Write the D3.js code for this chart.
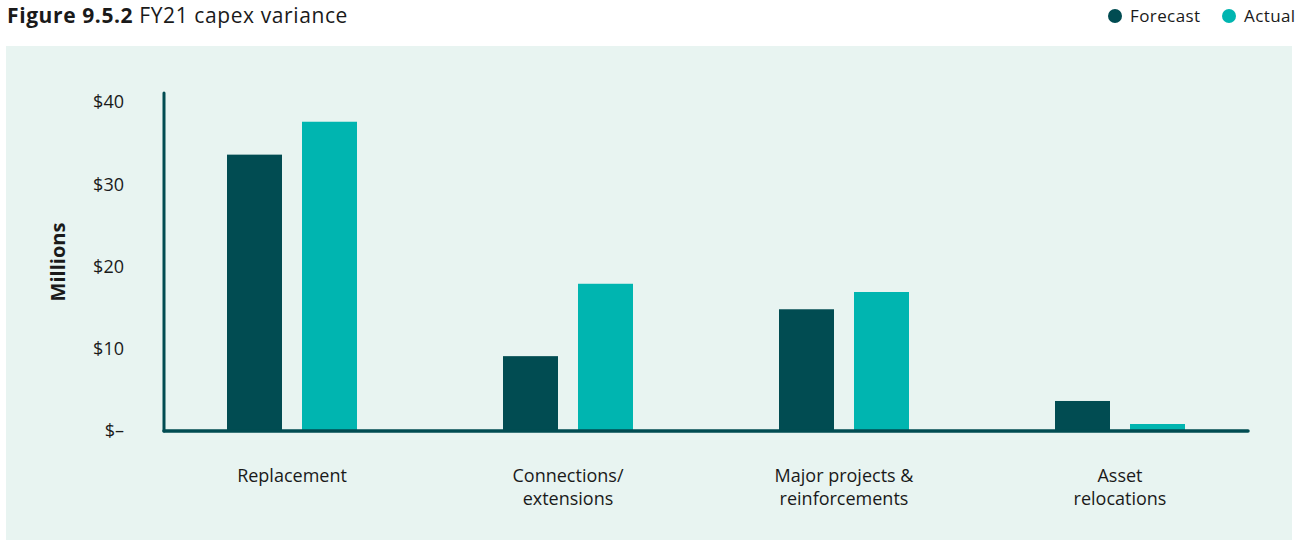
<!DOCTYPE html>
<html>
<head>
<meta charset="utf-8">
<script src="https://cdn.jsdelivr.net/npm/d3@7"></script>
<style>
  html, body { margin: 0; padding: 0; background: #ffffff; }
  svg { display: block; font-family: "Open Sans", "Lato", sans-serif; }
</style>
</head>
<body>
<svg id="chart" width="1301" height="540"></svg>
<script>
// FY21 capex by category, $ millions
const categories = [
  ["Replacement"],
  ["Connections/", "extensions"],
  ["Major projects &", "reinforcements"],
  ["Asset", "relocations"]
];
const forecast = [33.6, 9.1, 14.8, 3.65];
const actual = [37.6, 17.9, 16.9, 0.85];
const seriesNames = ["Forecast", "Actual"];
const yTicks = [0, 10, 20, 30, 40];
const yTickLabels = ["$–", "$10", "$20", "$30", "$40"];

const colors = { Forecast: "#014C52", Actual: "#00B5B0" };
const inkColor = "#1a1a1a";
const fontFamily = "'Open Sans', Lato, sans-serif";

const svg = d3.select("#chart");

// Panel background
svg.append("rect")
  .attr("x", 6).attr("y", 46)
  .attr("width", 1286).attr("height", 494)
  .attr("fill", "#E8F4F1");

// Title
const title = svg.append("text")
  .attr("x", 7).attr("y", 23)
  .attr("font-size", 21)
  .attr("letter-spacing", 0.6)
  .attr("fill", inkColor);
title.append("tspan").attr("font-weight", 700).text("Figure 9.5.2");
title.append("tspan").text(" FY21 capex variance");

// Legend
const legendItems = [
  { name: seriesNames[0], cx: 1115, tx: 1130 },
  { name: seriesNames[1], cx: 1229, tx: 1244 }
];
const legend = svg.append("g");
legend.selectAll("circle").data(legendItems).join("circle")
  .attr("cx", d => d.cx).attr("cy", 16).attr("r", 7)
  .attr("fill", d => colors[d.name]);
legend.selectAll("text").data(legendItems).join("text")
  .attr("x", d => d.tx).attr("y", 22)
  .attr("font-size", 17)
  .attr("letter-spacing", 0.4)
  .attr("fill", inkColor)
  .text(d => d.name);

// Scales
const y = d3.scaleLinear().domain([0, 40]).range([431, 102]);
const x0 = d3.scaleBand()
  .domain(d3.range(categories.length))
  .range([154, 1258])
  .paddingInner(0).paddingOuter(0);
const x1 = d3.scaleBand()
  .domain(seriesNames)
  .range([x0.bandwidth() / 2 - 65, x0.bandwidth() / 2 + 65])
  .paddingInner(20 / 75)
  .paddingOuter(0);

// Y tick labels
const yAxis = d3.axisLeft(y)
  .tickValues(yTicks)
  .tickFormat((d, i) => yTickLabels[i])
  .tickSize(0)
  .tickPadding(0);
const yAxisG = svg.append("g")
  .attr("transform", "translate(124,0)")
  .call(yAxis);
yAxisG.select(".domain").remove();
yAxisG.selectAll("text")
  .attr("font-size", 18)
  .attr("font-family", fontFamily)
  .attr("fill", inkColor);

// Y axis title
svg.append("text")
  .attr("transform", "translate(65,262) rotate(-90)")
  .attr("text-anchor", "middle")
  .attr("font-size", 20)
  .attr("font-weight", 700)
  .attr("fill", inkColor)
  .text("Millions");

// Bars
const groups = svg.append("g").selectAll("g")
  .data(categories.map((c, i) => ({ i, values: [
    { name: seriesNames[0], value: forecast[i] },
    { name: seriesNames[1], value: actual[i] }
  ] })))
  .join("g")
  .attr("transform", d => `translate(${x0(d.i)},0)`);

groups.selectAll("rect")
  .data(d => d.values)
  .join("rect")
  .attr("x", d => x1(d.name))
  .attr("width", x1.bandwidth())
  .attr("y", d => y(d.value))
  .attr("height", d => y(0) - y(d.value))
  .attr("fill", d => colors[d.name]);

// Axis lines
const axisColor = "#014C52";
svg.append("line")
  .attr("x1", 164).attr("x2", 164)
  .attr("y1", 93).attr("y2", y(0))
  .attr("stroke", axisColor).attr("stroke-width", 3)
  .attr("stroke-linecap", "round");
svg.append("line")
  .attr("x1", 164).attr("x2", 1248)
  .attr("y1", y(0)).attr("y2", y(0))
  .attr("stroke", axisColor).attr("stroke-width", 3.5)
  .attr("stroke-linecap", "round");

// Category labels
const catLabels = svg.append("g").selectAll("text")
  .data(categories.map((lines, i) => ({ lines, i })))
  .join("text")
  .attr("x", d => x0(d.i) + x0.bandwidth() / 2)
  .attr("y", 482)
  .attr("text-anchor", "middle")
  .attr("font-size", 18)
  .attr("fill", inkColor);
catLabels.selectAll("tspan")
  .data(d => d.lines.map(l => ({ l, x: x0(d.i) + x0.bandwidth() / 2 })))
  .join("tspan")
  .attr("x", d => d.x)
  .attr("dy", (d, j) => j === 0 ? 0 : 23)
  .text(d => d.l);
</script>
</body>
</html>
